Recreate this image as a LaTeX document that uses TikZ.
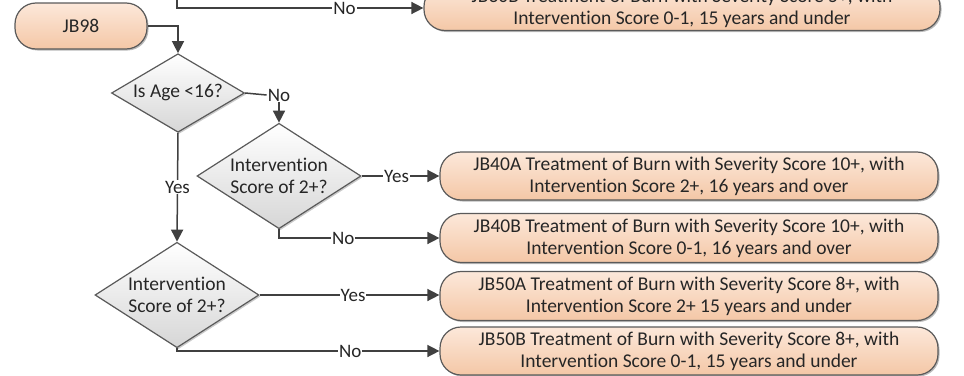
\documentclass[tikz,border=0pt]{standalone}
\usepackage{fontspec}
\setmainfont{Carlito}[Ligatures=NoCommon]
\usetikzlibrary{shapes.geometric,arrows.meta,shadows}
\definecolor{linec}{HTML}{404040}
\definecolor{txtc}{HTML}{262626}
\definecolor{peachtop}{HTML}{FCE8DA}
\definecolor{peachbot}{HTML}{F4C7A6}
\definecolor{boxedge}{HTML}{5A5A5A}
\tikzset{
  pill/.style={rectangle, rounded corners=21pt, draw=boxedge, line width=1.2pt,
    top color=peachtop, bottom color=peachbot, align=center, text=txtc,
    font=\fontsize{19.5}{22}\selectfont, inner sep=0pt,
    drop shadow={shadow xshift=1.5pt, shadow yshift=-1.5pt, fill=black!60, opacity=0.45}},
  decision/.style={diamond, draw=boxedge, line width=1.2pt, top color=white,
    bottom color=black!16, align=center, text=txtc, inner sep=-7pt,
    font=\fontsize{19.5}{22}\selectfont,
    drop shadow={shadow xshift=1.5pt, shadow yshift=-1.5pt, fill=black!60, opacity=0.35}},
  conn/.style={draw=linec, line width=1.5pt},
  arr/.style={conn, -{Triangle[length=12pt,width=12pt]}},
  lab/.style={fill=white, text=txtc, inner sep=1pt, font=\fontsize{19}{20}\selectfont}
}
\begin{document}
\begin{tikzpicture}[x=1pt,y=-1pt]
\useasboundingbox (0,0) rectangle (964,375);
\clip (0,0) rectangle (964,375);
% nodes
\node[pill, minimum width=132pt, minimum height=46pt] (jb98) at (81,26) {JB98};
\node[pill, minimum width=516pt, minimum height=45pt] (top) at (682,8)
  {JB30B Treatment of Burn with Severity Score 5+, with\\Intervention Score 0-1, 15 years and under};
\node[decision, minimum width=133pt, minimum height=72pt] (d1) at (178,93) {Is Age <16?};
\node[decision, minimum width=164pt, minimum height=88pt] (d2) at (279,176) {Intervention\\Score of 2+?};
\node[decision, minimum width=164pt, minimum height=88pt] (d3) at (177,295) {Intervention\\Score of 2+?};
\node[pill, minimum width=498pt, minimum height=48pt] (a40) at (689,176)
  {JB40A Treatment of Burn with Severity Score 10+, with\\Intervention Score 2+, 16 years and over};
\node[pill, minimum width=498pt, minimum height=49pt] (b40) at (689,238)
  {JB40B Treatment of Burn with Severity Score 10+, with\\Intervention Score 0-1, 16 years and over};
\node[pill, minimum width=498pt, minimum height=49pt] (a50) at (689,296)
  {JB50A Treatment of Burn with Severity Score 8+, with\\Intervention Score 2+ 15 years and under};
\node[pill, minimum width=498pt, minimum height=48pt] (b50) at (689,351)
  {JB50B Treatment of Burn with Severity Score 8+, with\\Intervention Score 0-1, 15 years and under};
% connectors
\coordinate (tstart) at (177,-2);
\draw[arr] (tstart) |- node[lab, pos=0.84] {No} (top.west);
\draw[arr] (jb98.east) -| (d1.north);
\node[lab] (noA) at (279,95) {No};
\draw[conn] (d1.east) -- (noA.west);
\draw[arr] (noA.south -| d2.north) -- (d2.north);
\draw[arr] (d1.south) -- node[lab] {Yes} (d3.north);
\draw[arr] (d2.east) -- node[lab, pos=0.45] {Yes} (d2.east -| a40.west);
\draw[arr] (d2.south) |- node[lab, pos=0.70] {No} (b40.west);
\draw[arr] (d3.east) -- node[lab, pos=0.52] {Yes} (d3.east -| a50.west);
\draw[arr] (d3.south) |- node[lab, pos=0.83] {No} (b50.west);
\end{tikzpicture}
\end{document}
